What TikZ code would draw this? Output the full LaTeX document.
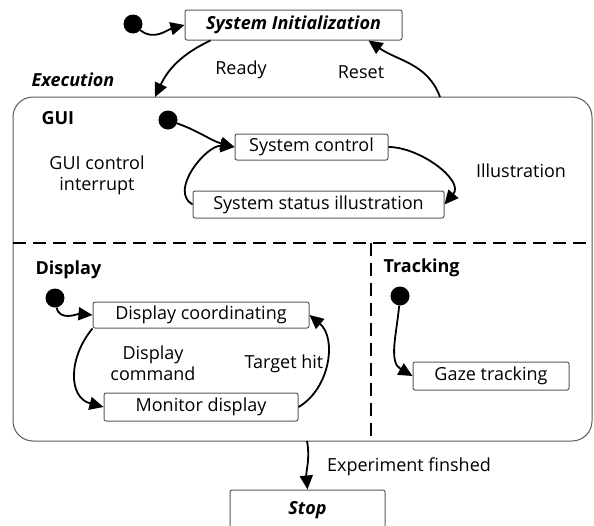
\documentclass[tikz,border=0pt]{standalone}
\usepackage{fontspec}
\setmainfont{Open Sans}
\usetikzlibrary{arrows.meta,positioning}

\begin{document}
\begin{tikzpicture}[x=1pt, y=1pt,
  state/.style={draw=gray!70!black, line width=1pt, rounded corners=2pt, fill=white, inner sep=0pt, font=\fontsize{18}{21}\selectfont},
  init/.style={circle, fill=black, minimum size=19pt, inner sep=0pt},
  tr/.style={line width=1.8pt, -{Triangle[length=14pt,width=13pt]}},
  lbl/.style={font=\fontsize{18}{21}\selectfont, align=center},
  region/.style={font=\fontsize{18}{21}\selectfont\bfseries},
  divider/.style={line width=2pt, dash pattern=on 13pt off 7pt}]
\useasboundingbox (0,0) rectangle (594,-525);

\node (exec) [draw=gray!70!black, line width=1pt, rounded corners=20pt, minimum width=579pt, minimum height=344pt] at (302.5,-269) {};
\draw [divider] (13,-243) -- (592,-243);
\draw [divider] (371,-243) -- (371,-441);

\node (i0) [init] at (133,-24) {};
\node (sysinit) [state, minimum width=217pt, minimum height=30pt, font=\fontsize{18}{21}\selectfont\bfseries\itshape] at (293.5,-25) {System Initialization};
\node (stop) [state, minimum width=155pt, minimum height=40pt, font=\fontsize{18}{21}\selectfont\bfseries\itshape] at (307.5,-510) {Stop};
\node (exectitle) [font=\fontsize{18}{21}\selectfont\bfseries\itshape] at (73,-80) {Execution};
\coordinate (execin) at (155,-97);
\coordinate (execout) at (440,-97);
\coordinate (execend) at (307,-441);

\node (gui) [region, anchor=west] at (38,-118) {GUI};
\node (g0) [init] at (168,-120) {};
\node (sysctl) [state, minimum width=153pt, minimum height=26pt] at (311.5,-147) {System control};
\node (status) [state, minimum width=251pt, minimum height=27pt] at (318.5,-204.5) {System status illustration};

\node (disp) [region, anchor=west] at (32,-270) {Display};
\node (d0) [init] at (55,-298) {};
\node (dispco) [state, minimum width=216pt, minimum height=26pt] at (201,-315) {Display coordinating};
\node (monitor) [state, minimum width=194pt, minimum height=28pt] at (201,-407) {Monitor display};

\node (track) [region, anchor=west] at (380,-268) {Tracking};
\node (t0) [init] at (400,-296) {};
\node (gaze) [state, minimum width=156pt, minimum height=28pt] at (491,-376) {Gaze tracking};

\node (ready) [lbl] at (241,-70) {Ready};
\node (reset) [lbl] at (361,-72) {Reset};
\node (interrupt) [lbl] at (97,-175) {GUI control\\interrupt};
\node (illus) [lbl] at (521,-171) {Illustration};
\node (command) [lbl] at (153,-363) {Display\\command};
\node (hit) [lbl] at (284,-364) {Target hit};
\node (finish) [lbl] at (409,-467) {Experiment finshed};

\draw [tr] (i0) to[out=-40, in=195] (sysinit.west);
\draw [tr] ([xshift=-83pt]sysinit.south) to[out=205, in=65] (execin);
\draw [tr] (execout) to[out=110, in=-35] ([xshift=75pt]sysinit.south);

\draw [tr] (g0) to[out=-20, in=165] (sysctl.west);
\draw [tr] (status.west) to[out=150, in=175] (sysctl.west);
\draw [tr] (sysctl.east) to[out=0, in=50] (status.east);

\draw [tr] (d0) to[out=-80, in=175] (dispco.west);
\draw [tr] (dispco.south west) to[out=230, in=165, looseness=1.2] (monitor.west);
\draw [tr] (monitor.east) to[out=30, in=-40] (dispco.east);

\draw [tr] (t0) to[out=-95, in=150] (gaze.west);

\draw [tr] (execend) to[out=-80, in=95] (stop.north);
\end{tikzpicture}
\end{document}
